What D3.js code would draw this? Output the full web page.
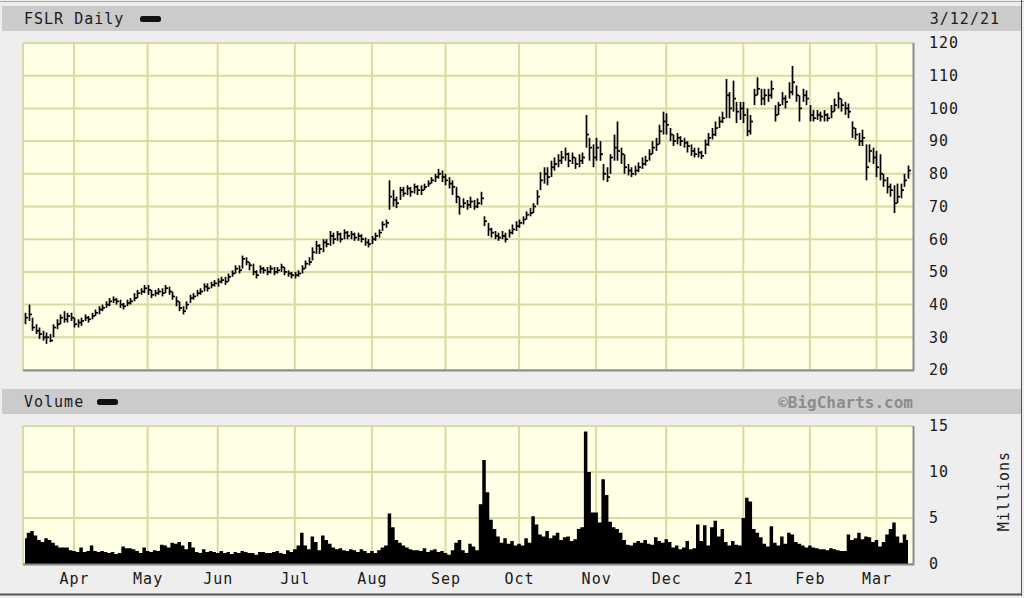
<!DOCTYPE html>
<html><head><meta charset="utf-8">
<script src="https://cdn.jsdelivr.net/npm/d3@7"></script>
<style>
html,body{margin:0;padding:0;background:#eeeeee;}
svg{display:block;}
text{font-family:"DejaVu Sans Mono",monospace;}
</style></head>
<body><svg id="c" width="1024" height="598"></svg>
<script>
// ---------- data ----------
const startDate = "2020-03-12", endDate = "2021-03-12";
const holidays = ["2020-04-10","2020-05-25","2020-07-03","2020-09-07","2020-11-26","2020-12-25","2021-01-01","2021-01-18","2021-02-15"];
const monthLabels = ["Apr","May","Jun","Jul","Aug","Sep","Oct","Nov","Dec","21","Feb","Mar"];
const priceTicks = [20,30,40,50,60,70,80,90,100,110,120];
const volTicks = [0,5,10,15];

const close = [
36,37,33,32,31,30,30,29,33,34,36,35.5,36.5,36,
34,34.5,35,36,35.5,36.5,37.5,38.5,39,40,41,41.5,41,40,39.5,40.5,41,42,43.5,44,45,
44.5,43,43.5,44,43.5,45,44,42.5,41,39,38,40,42,42.5,43.5,44,45.5,45,46,46.5,
47,47.5,47,48.5,49.5,51,50.5,54,53,52,50,49,51,50.5,50,51,50,50.5,51.5,50,49.5,49,
49,49.5,51,52.5,53,56,58,57,59,58.5,61,60,61.5,60,62,61,61.5,60.5,61,60,59,58.5,
60,61,62,64.5,65,73,72,71,75,74,75.5,74.5,76,75,75,76,77,78,79,80,79,
78,77,76,73,70,71,70.5,71.5,70,71,72.5,65.5,63,62,61,60.5,61,60,62,63,64,
65,66,67.5,68,70,73,78,80,79,82,83,84,85,86,84,85,83,84,85,92,88,85,
88,86,80,79,85,88,87,86,82,81,80,81,82,83,84,86,88,89,93,96,
95,92,90,91,90,89.5,88.5,87,86,86.5,85.5,89,91,92,94,96,97,104,100,103,99,100,
98,93,96,104,106,103,104,104,106,98,101,103,102,105,108,104,100,104,103,
98,97,98,97.5,98,97,99,101,103,101,100,99,94,92,90,91,82,87,85,
82,80,78,76,75,71,73,75,78,81];
const high = [
37.5,40,36,34,33,32,31.5,31,34,35.5,37,38,37.5,37.5,
36,35.5,36,37,36.5,37.5,38.5,39.5,40,41,42,42.5,42,41.5,40.5,41.5,42,43.5,44.5,45,46,
46,44.5,44.5,45,45,46,45.5,44,42.5,41,39.5,41,43,43.5,44.5,45,46.5,46.5,47,47.5,
48,48.5,48.5,49.5,50.5,52,52,55,54.5,53,52.5,50.5,52,51.5,51.5,52,51.5,51.5,52.5,51.5,50.5,50,
50,50.5,52,53.5,54.5,57.5,59.5,58.5,60,60,62.5,62,62.5,62,63,62.5,62.5,62,62,61.5,60.5,60,
61,62,63,65.5,66,78,75,73,76,76,76.5,76,77,76.5,76.5,77,78,79,80,81.5,81,
80,79,78,76,73,72.5,72,73,72,72.5,74.5,67,65,63.5,62.5,62,62.5,62,63,64.5,65.5,
66,67,68.5,69.5,71,75,80.5,82,82,84,85,86,87,88,86.5,86.5,85,86,86.5,98,91,89,
91,90,83,82,86,92,96,88,86,83,82,82.5,83.5,85,85.5,87.5,90,91,95,99,
98.5,94,92,92.5,91.5,91,90,89,88,88,87,90.5,92.5,94,96,97.5,99,109,105,108.5,102,102,
102,100,98,106,109.5,106,106,106,108.5,101,102,105,104,108,113,107,104,106,105.5,
101,99.5,99.5,99,99.5,98.5,101,103,105,103,102,101.5,96,94,92.5,93.5,89,89,88,
87,86,80,79,77,76.5,77,77,80,82.5];
const low = [
34,35,32,31,29.5,29,28,28.5,30,32.5,34,34.5,34.5,35,
33,33,33.5,35,34.5,35.5,36.5,37,38,39,39.5,40.5,40,39,38.5,39.5,40,41,42,43,43.5,
43,42,42.5,43,42.5,43.5,43,41.5,39.5,38,37,38.5,40.5,41.5,42.5,43,44,44,45,45.5,
45.5,46.5,46,47,48.5,49.5,49.5,51,52,50.5,49,48,49.5,49.5,49,49.5,49,49.5,50,49,48.5,48,
48,48.5,49.5,51,52,53.5,55.5,55.5,56,57.5,58,58.5,59.5,59,60,60,60,59.5,59.5,59,58,57.5,
58.5,59.5,60.5,62.5,63.5,69,70,69.5,72,73,73.5,73,74,73.5,73.5,75,76,77,77.5,78.5,77.5,
76.5,75.5,73.5,71,67.5,69.5,69,69.5,69,69.5,70.5,64,61,60.5,60,59.5,60,59,60.5,61.5,62.5,
63.5,64.5,66,67,68,70.5,75,77,76.5,79,81,82,83,84,82,83,81.5,82,83,88,84,82,
84,84,78,77.5,80,84,84,83,80,79.5,79,79.5,80.5,81.5,82.5,84,86,87,89,92,
92,90,88.5,89,88.5,88,86.5,85.5,85,85,84.5,86,88.5,90.5,91.5,94,95.5,97,97,99,95.5,96.5,
95.5,91.5,92,101,104,101,101,102,103,96,98,101,100,103,104,102,96,102,101,
96,96,96.5,96,96,96,97,99,100,99,98,97,91,90.5,88.5,88.5,78,83.5,83,
79,78,76,74,73,68,71,72.5,76,78.5];
const volume = [
2.8,3.4,3.6,3.1,2.6,2.4,2.8,2.6,2.3,2.0,1.8,1.8,1.8,1.5,
1.4,1.3,1.8,1.3,1.4,2.0,1.4,1.3,1.4,1.3,1.2,1.3,1.1,1.2,1.9,1.7,1.7,1.6,1.4,1.2,1.8,
1.4,1.3,1.5,1.4,2.1,2.0,1.8,2.3,2.2,2.4,2.0,1.6,2.4,1.8,1.3,1.2,1.6,1.3,1.4,1.3,
1.2,1.4,1.2,1.3,1.1,1.3,1.2,1.4,1.3,1.2,1.2,1.0,1.3,1.3,1.2,1.2,1.3,1.4,1.2,1.1,1.5,1.3,
1.6,2.0,3.4,2.0,1.6,3.0,2.4,1.5,3.1,2.6,2.2,1.8,1.6,1.7,1.5,1.4,1.6,1.5,1.3,1.6,1.4,1.2,
1.4,1.2,1.5,1.8,2.0,5.5,4.0,2.6,2.3,2.0,1.8,1.6,1.5,1.5,1.4,1.7,1.3,1.5,1.6,1.3,1.4,
1.2,1.0,1.5,2.3,2.6,1.5,1.2,2.2,1.9,1.5,6.5,11.3,7.8,4.8,3.8,3.0,2.3,2.8,2.2,2.5,2.0,
2.2,2.0,2.8,2.3,5.2,4.3,3.2,3.0,3.6,2.8,3.1,3.4,2.6,2.9,3.0,2.5,2.7,3.8,4.0,14.4,10.0,5.6,
5.6,4.5,9.2,7.5,4.6,4.0,3.8,3.4,2.6,2.1,2.0,2.3,2.5,2.3,2.6,2.2,2.1,2.9,2.5,2.3,
2.7,2.4,1.8,2.0,1.6,1.8,2.5,1.6,1.7,4.3,2.5,4.2,2.0,4.0,4.7,3.0,3.8,2.4,2.0,2.5,2.1,2.0,
5.0,7.2,6.8,3.8,3.4,2.9,2.2,1.9,4.1,2.3,2.0,3.0,2.2,3.4,3.2,2.4,2.2,2.0,1.8,
2.0,1.8,1.7,1.6,1.6,1.5,1.7,1.6,1.5,1.4,1.4,3.2,2.6,2.8,3.4,2.7,3.0,2.9,2.4,
2.6,1.9,2.4,3.2,3.8,4.5,3.0,2.3,3.2,2.6];

// ---------- trading calendar ----------
const fmt = d3.utcFormat("%Y-%m-%d");
const dates = d3.utcDays(new Date(startDate+"T00:00Z"), new Date(endDate+"T00:00Z").getTime()+86400000)
  .filter(d => d.getUTCDay()!==0 && d.getUTCDay()!==6 && !holidays.includes(fmt(d)));
const n = Math.min(dates.length, close.length);
const monthIdx = [];
for (let i=1;i<dates.length;i++) if (dates[i].getUTCMonth()!==dates[i-1].getUTCMonth()) monthIdx.push(i);

// ---------- layout ----------
const svg = d3.select("#c");
const L = 23, R = 913;
const pTop = 43, pBot = 370, vTop = 426, vBot = 564;
const x = d3.scaleLinear().domain([0, 252]).range([25, 908]);
const yP = d3.scaleLinear().domain([20,120]).range([pBot, pTop]);
const yV = d3.scaleLinear().domain([0,15]).range([vBot, vTop]);
const gridC = "#d9d9a3", plotBg = "#ffffe6";

// frame
svg.append("rect").attr("x",0).attr("y",0).attr("width",1024).attr("height",598).attr("fill","#eeeeee");
svg.append("line").attr("x1",0).attr("x2",1024).attr("y1",1.5).attr("y2",1.5).attr("stroke","#a8a8a8");
svg.append("line").attr("x1",1021.5).attr("x2",1021.5).attr("y1",0).attr("y2",596).attr("stroke","#555");
svg.append("line").attr("x1",0).attr("x2",1022).attr("y1",594.5).attr("y2",594.5).attr("stroke","#555").attr("stroke-width",2);

// header bars
svg.append("rect").attr("x",2).attr("y",6).attr("width",1019).attr("height",25).attr("fill","#cbcbcb");
svg.append("rect").attr("x",2).attr("y",389).attr("width",1019).attr("height",25).attr("fill","#cbcbcb");

const txt = (t,xx,yy,anchor) => svg.append("text").attr("x",xx).attr("y",yy).attr("text-anchor",anchor||"start")
  .attr("dominant-baseline","central").attr("font-size",15).attr("letter-spacing",1).attr("fill","#1a1a1a").text(t);
txt("FSLR Daily",24,19);
svg.append("rect").attr("x",140).attr("y",16).attr("width",21).attr("height",6).attr("rx",2.5).attr("fill","#111");
txt("3/12/21",1000,19,"end");
txt("Volume",24,402);
svg.append("rect").attr("x",97).attr("y",399).attr("width",21).attr("height",6).attr("rx",2.5).attr("fill","#111");
svg.append("text").attr("x",913).attr("y",402).attr("text-anchor","end").attr("dominant-baseline","central")
  .attr("font-family","'DejaVu Sans',sans-serif").attr("font-weight","bold").attr("font-size",16)
  .attr("fill","#8c8c8c").text("\u00A9BigCharts.com");

// panels
function panel(top,bot,yScale,ticks){
  const g = svg.append("g");
  g.append("rect").attr("x",L).attr("y",top).attr("width",R-L).attr("height",bot-top).attr("fill",plotBg);
  g.selectAll(".h").data(ticks).join("line").attr("x1",L).attr("x2",R)
    .attr("y1",d=>yScale(d)).attr("y2",d=>yScale(d)).attr("stroke",gridC).attr("stroke-width",2);
  g.selectAll(".v").data(monthIdx).join("line").attr("x1",d=>x(d)).attr("x2",d=>x(d))
    .attr("y1",top).attr("y2",bot).attr("stroke",gridC).attr("stroke-width",2);
  g.append("line").attr("x1",L).attr("x2",L).attr("y1",top).attr("y2",bot).attr("stroke",gridC).attr("stroke-width",2);
  return g;
}
panel(pTop,pBot,yP,priceTicks);
panel(vTop,vBot,yV,volTicks);

// price bars (high-low with close tick)
const bars = svg.append("g").attr("stroke","#000").attr("stroke-width",1.7);
for (let i=0;i<n;i++){
  const xi = Math.round(x(i))+0.5;
  bars.append("line").attr("x1",xi).attr("x2",xi).attr("y1",yP(high[i])).attr("y2",yP(low[i]));
  bars.append("line").attr("x1",xi-0.5).attr("x2",xi+2.5).attr("y1",yP(close[i])).attr("y2",yP(close[i]));
}

// volume as filled steps
const area = d3.area().x((d,i)=>x(i)).y0(vBot).y1(d=>yV(d)).curve(d3.curveStep);
svg.append("path").datum(volume.slice(0,n)).attr("d",area).attr("fill","#000");

// panel borders (shadow)
[[pTop,pBot],[vTop,vBot]].forEach(([t,b])=>{
  svg.append("line").attr("x1",R+0.5).attr("x2",R+0.5).attr("y1",t).attr("y2",b+1).attr("stroke","#8a8a8a").attr("stroke-width",2);
  svg.append("line").attr("x1",L).attr("x2",R+1).attr("y1",b+0.5).attr("y2",b+0.5).attr("stroke","#8a8a8a").attr("stroke-width",2);
});

// axes labels
const yAxisP = d3.axisRight(yP).tickValues(priceTicks).tickSize(0).tickPadding(0);
const gp = svg.append("g").attr("transform",`translate(929,0)`).call(yAxisP);
const yAxisV = d3.axisRight(yV).tickValues(volTicks).tickSize(0).tickPadding(0);
const gv = svg.append("g").attr("transform",`translate(929,0)`).call(yAxisV);
const xAxis = d3.axisBottom(x).tickValues(monthIdx).tickFormat((d,i)=>monthLabels[i]).tickSize(0).tickPadding(0);
const gx = svg.append("g").attr("transform",`translate(0,573)`).call(xAxis);
[gp,gv,gx].forEach(g=>{
  g.select(".domain").remove();
  g.selectAll("text").attr("font-family","'DejaVu Sans Mono',monospace").attr("font-size",15)
   .attr("letter-spacing",1).attr("fill","#1a1a1a");
});
gx.selectAll("text").attr("dy","0.71em");
svg.append("text").attr("transform","translate(1004,491) rotate(-90)").attr("text-anchor","middle")
  .attr("dominant-baseline","central").attr("font-size",15).attr("letter-spacing",1).attr("fill","#1a1a1a").text("Millions");
</script></body></html>
